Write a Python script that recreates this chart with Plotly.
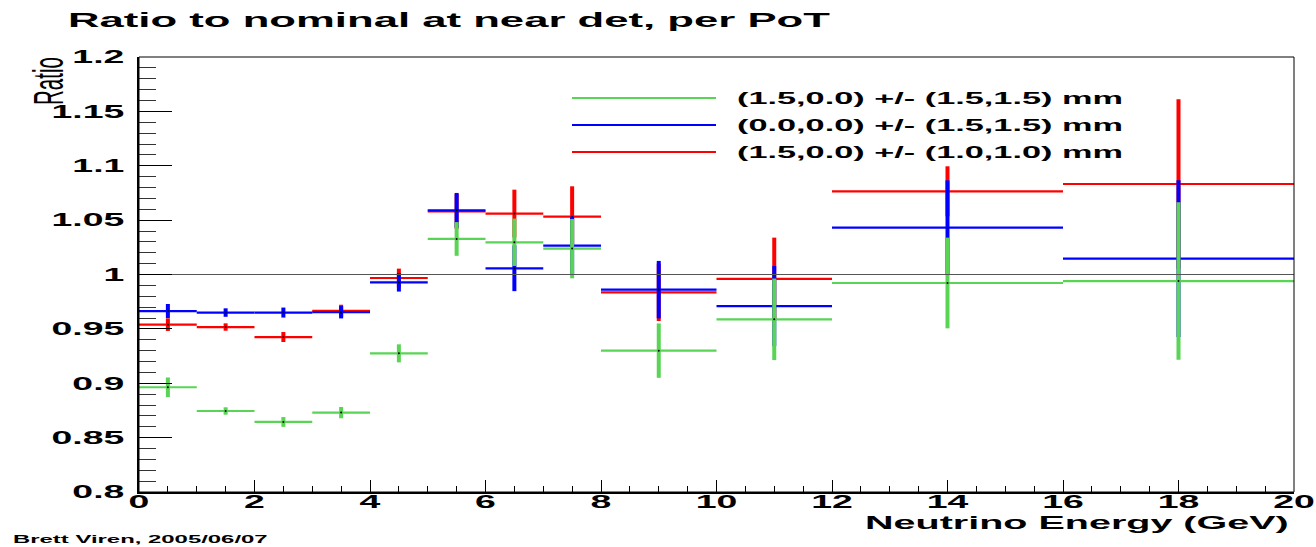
import plotly.graph_objects as go

# Energy bins (GeV): centres and half-widths
bin_centres = [0.5, 1.5, 2.5, 3.5, 4.5, 5.5, 6.5, 7.5, 9.0, 11.0, 14.0, 18.0]
bin_half_widths = [0.5, 0.5, 0.5, 0.5, 0.5, 0.5, 0.5, 0.5, 1.0, 1.0, 2.0, 2.0]

# Ratio to nominal, per PoT, for each beam offset configuration
series_names = [
    "(1.5,0.0) +/- (1.5,1.5) mm",
    "(0.0,0.0) +/- (1.5,1.5) mm",
    "(1.5,0.0) +/- (1.0,1.0) mm",
]
ratio_green = [0.8963, 0.8745, 0.8644, 0.8730, 0.9275, 1.0327, 1.0296, 1.0238, 0.9300, 0.9588, 0.9922, 0.9940]
err_green = [0.0090, 0.0034, 0.0045, 0.0052, 0.0083, 0.0155, 0.0218, 0.0273, 0.0250, 0.0375, 0.0417, 0.0725]
ratio_blue = [0.9664, 0.9650, 0.9650, 0.9653, 0.9928, 1.0590, 1.0057, 1.0266, 0.9861, 0.9710, 1.0431, 1.0146]
err_blue = [0.0065, 0.0039, 0.0046, 0.0057, 0.0085, 0.0160, 0.0210, 0.0267, 0.0264, 0.0368, 0.0435, 0.0720]
ratio_red = [0.9539, 0.9517, 0.9425, 0.9665, 0.9968, 1.0580, 1.0560, 1.0532, 0.9836, 0.9959, 1.0765, 1.0832]
err_red = [0.0058, 0.0034, 0.0046, 0.0057, 0.0086, 0.0160, 0.0220, 0.0279, 0.0264, 0.0380, 0.0230, 0.0779]

reference_ratio = 1.0
x_range = [0, 20]
y_range = [0.8, 1.2]
x_tick_vals = [0, 2, 4, 6, 8, 10, 12, 14, 16, 18, 20]
x_tick_text = ["0", "2", "4", "6", "8", "10", "12", "14", "16", "18", "20"]
y_tick_vals = [0.8, 0.85, 0.9, 0.95, 1.0, 1.05, 1.1, 1.15, 1.2]
y_tick_text = ["0.8", "0.85", "0.9", "0.95", "1", "1.05", "1.1", "1.15", "1.2"]

GREEN = "#59D454"
BLUE = "#0000FF"
RED = "#FF0000"
FONT = "Liberation Sans"

W, H = 1316, 547
L, R, T, B = 139, 22, 57, 55
PW, PH = W - L - R, H - T - B


def px_x(px):
    return (px - L) / PW


def px_y(py):
    return (H - B - py) / PH


fig = go.Figure()

# drawn red first, then blue, green on top
for name, vals, errs, col in [
    (series_names[2], ratio_red, err_red, RED),
    (series_names[1], ratio_blue, err_blue, BLUE),
    (series_names[0], ratio_green, err_green, GREEN),
]:
    fig.add_trace(go.Scatter(
        x=bin_centres, y=vals, mode="markers", name=name,
        marker=dict(size=2, color="black"),
        error_x=dict(type="data", array=bin_half_widths, color=col, thickness=2.2, width=0),
        error_y=dict(type="data", array=errs, color=col, thickness=4, width=0),
        showlegend=False,
    ))

# unity reference line
fig.add_trace(go.Scatter(
    x=x_range, y=[reference_ratio, reference_ratio], mode="lines",
    line=dict(color="#555555", width=1.2), showlegend=False, hoverinfo="skip",
))

# legend drawn by hand
legend_rows_px = [98, 125, 152]
for name, col, ypx in zip(series_names, [GREEN, BLUE, RED], legend_rows_px):
    fig.add_shape(type="line", xref="paper", yref="paper",
                  x0=px_x(572), x1=px_x(716), y0=px_y(ypx), y1=px_y(ypx),
                  line=dict(color=col, width=2))
    fig.add_annotation(xref="paper", yref="paper", x=px_x(735), y=px_y(ypx),
                       xanchor="left", yanchor="middle", align="left", showarrow=False,
                       text=name, font=dict(family=FONT, size=16.5, color="black", weight="bold"))

# frame on top and right
fig.add_shape(type="rect", xref="paper", yref="paper", x0=0, x1=1, y0=0, y1=1,
              line=dict(color="black", width=1))

fig.add_annotation(xref="paper", yref="paper", x=px_x(66), y=px_y(20),
                   xanchor="left", yanchor="middle", align="left", showarrow=False,
                   text="Ratio to nominal at near det, per PoT",
                   font=dict(family=FONT, size=21, color="black", weight="bold"))
fig.add_annotation(xref="paper", yref="paper", x=px_x(1291), y=px_y(522),
                   xanchor="right", yanchor="middle", align="right", showarrow=False,
                   text="Neutrino Energy (GeV)",
                   font=dict(family=FONT, size=19, color="black", weight="bold"))
fig.add_annotation(xref="paper", yref="paper", x=px_x(11), y=px_y(539),
                   xanchor="left", yanchor="middle", align="left", showarrow=False,
                   text="Brett Viren, 2005/06/07",
                   font=dict(family=FONT, size=11.5, color="black", weight="bold"))
fig.add_annotation(xref="paper", yref="paper", x=px_x(47), y=px_y(81),
                   xanchor="center", yanchor="middle", showarrow=False, textangle=-90,
                   text="Ratio",
                   font=dict(family=FONT, size=20.5, color="black"))

fig.update_layout(
    width=W, height=H,
    margin=dict(l=L, r=R, t=T, b=B, pad=0),
    paper_bgcolor="white", plot_bgcolor="white",
    showlegend=False,
    xaxis=dict(
        range=x_range, tickvals=x_tick_vals, ticktext=x_tick_text,
        showgrid=False, zeroline=False, showline=True, linecolor="black", linewidth=2,
        ticks="inside", ticklen=12.5, tickwidth=1, tickcolor="black",
        minor=dict(dtick=0.5, ticks="inside", ticklen=6.5, tickwidth=1, tickcolor="black"),
        tickfont=dict(family=FONT, size=18, color="black", weight="bold"),
        ticklabelstandoff=-8,
    ),
    yaxis=dict(
        range=y_range, tickvals=y_tick_vals, ticktext=y_tick_text,
        showgrid=False, zeroline=False, showline=True, linecolor="black", linewidth=2,
        ticks="inside", ticklen=33, tickwidth=1, tickcolor="black",
        minor=dict(dtick=0.01, ticks="inside", ticklen=17, tickwidth=1, tickcolor="#333333"),
        tickfont=dict(family=FONT, size=18, color="black", weight="bold"),
        ticklabelstandoff=9,
    ),
)

# widen the bold lettering horizontally, keeping each label's anchor fixed
stretch_js = """
var gd = document.getElementById('{plot_id}');
var S = 2.08;
gd.querySelectorAll('svg text').forEach(function(t){
  if (!t.textContent || !t.textContent.trim()) return;
  var bb = t.getBBox();
  var ctm = t.getCTM();
  var old = t.getAttribute('transform') || '';
  var tr;
  if (ctm && Math.abs(ctm.b) > 0.5) {
    var cx = bb.x + bb.width / 2, cy = bb.y + bb.height / 2;
    tr = ' translate(' + cx + ',' + cy + ') scale(1,' + S + ') translate(' + (-cx) + ',' + (-cy) + ')';
  } else {
    var anchor = t.getAttribute('text-anchor') || window.getComputedStyle(t).textAnchor;
    var ax = anchor === 'end' ? bb.x + bb.width : (anchor === 'middle' ? bb.x + bb.width / 2 : bb.x);
    tr = ' translate(' + ax + ',0) scale(' + S + ',1) translate(' + (-ax) + ',0)';
  }
  t.setAttribute('transform', old + tr);
});
"""

fig.write_html("out.html", config={"displayModeBar": False}, post_script=stretch_js)
